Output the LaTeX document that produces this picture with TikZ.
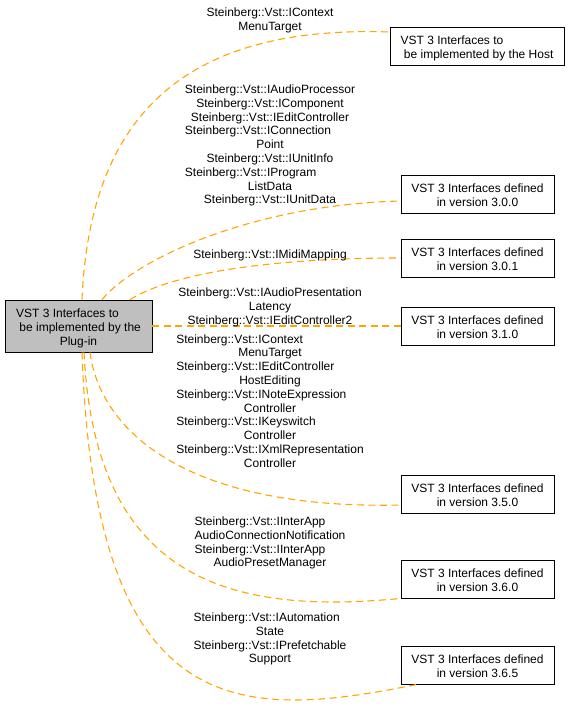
\documentclass[tikz,border=0pt]{standalone}
\usepackage{fontspec}
\setmainfont{Liberation Sans}
\definecolor{edgeorange}{HTML}{FFA500}
\definecolor{boxgray}{HTML}{BFBFBF}
\newcommand\lblfont{\fontsize{12}{13.8}\selectfont}
\newcommand\Lft[1]{\multicolumn{1}{@{}l@{}}{#1}}
\newcommand\Blk[1]{\begin{tabular}{@{}c@{}}#1\end{tabular}}
\newcommand\BoxTxt[1]{\raisebox{-3pt}[\height][\depth]{\Blk{#1}}}
\begin{document}
\begin{tikzpicture}[x=1pt,y=-1pt,
  box/.style={draw=black, line width=0.9pt, inner sep=0pt, minimum height=38pt, minimum width=153pt, font=\lblfont},
  lab/.style={inner sep=0pt, font=\lblfont},
  link/.style={draw=edgeorange, line width=1.1pt, dash pattern=on 7pt off 4.5pt}]
\useasboundingbox (0,0) rectangle (571,708);
% nodes
\node[box, fill=boxgray, minimum width=147pt, minimum height=52pt] (main) at (78.5,326)
  {\BoxTxt{\Lft{VST 3 Interfaces to}\\ \ be implemented by the\\ Plug-in}};
\node[box, minimum width=174pt] (host) at (477,46)
  {\BoxTxt{\Lft{VST 3 Interfaces to}\\ \ be implemented by the Host}};
\node[box] (v300) at (477.5,194) {\BoxTxt{VST 3 Interfaces defined\\ in version 3.0.0}};
\node[box] (v301) at (477.5,258) {\BoxTxt{VST 3 Interfaces defined\\ in version 3.0.1}};
\node[box] (v310) at (477.5,326) {\BoxTxt{VST 3 Interfaces defined\\ in version 3.1.0}};
\node[box] (v350) at (477.5,494) {\BoxTxt{VST 3 Interfaces defined\\ in version 3.5.0}};
\node[box] (v360) at (477.5,579) {\BoxTxt{VST 3 Interfaces defined\\ in version 3.6.0}};
\node[box] (v365) at (477.5,665) {\BoxTxt{VST 3 Interfaces defined\\ in version 3.6.5}};
% edges
\draw[link] ([xshift=3.5pt]main.north) .. controls (90,115) and (185,25) .. ([yshift=14pt]host.west);
\draw[link] ([xshift=23.5pt]main.north) .. controls (135,260) and (250,205) .. ([yshift=-7pt]v300.west);
\draw[link] ([xshift=51.5pt]main.north) .. controls (175,272) and (275,258) .. (v301.west);
\draw[link] (main.east) -- (v310.west);
\draw[link] ([xshift=11.5pt]main.south) .. controls (100,430) and (185,510) .. ([yshift=-11pt]v350.west);
\draw[link] ([xshift=5.5pt]main.south) .. controls (95,580) and (230,615) .. (v360.south west);
\draw[link] ([xshift=3.5pt]main.south) .. controls (95,725) and (240,720) .. ([xshift=-60.5pt]v365.south);
% edge labels
\node[lab] (l1) at (270,20.5) {\Blk{Steinberg::Vst::IContext\\ MenuTarget}};
\node[lab] (l2) at (270,146) {\Blk{Steinberg::Vst::IAudioProcessor\\ Steinberg::Vst::IComponent\\ Steinberg::Vst::IEditController\\ \Lft{Steinberg::Vst::IConnection}\\ Point\\ Steinberg::Vst::IUnitInfo\\ \Lft{Steinberg::Vst::IProgram}\\ ListData\\ Steinberg::Vst::IUnitData}};
\node[lab] (l3) at (270,255) {Steinberg::Vst::IMidiMapping};
\node[lab] (l4) at (270,307.5) {\Blk{Steinberg::Vst::IAudioPresentation\\ Latency\\ Steinberg::Vst::IEditController2}};
\node[lab] (l5) at (270,402.5) {\Blk{\Lft{Steinberg::Vst::IContext}\\ MenuTarget\\ \Lft{Steinberg::Vst::IEditController}\\ HostEditing\\ \Lft{Steinberg::Vst::INoteExpression}\\ Controller\\ \Lft{Steinberg::Vst::IKeyswitch}\\ Controller\\ \Lft{Steinberg::Vst::IXmlRepresentation}\\ Controller}};
\node[lab] (l6) at (270,543.5) {\Blk{\Lft{Steinberg::Vst::IInterApp}\\ AudioConnectionNotification\\ \Lft{Steinberg::Vst::IInterApp}\\ AudioPresetManager}};
\node[lab] (l7) at (270,639.5) {\Blk{\Lft{Steinberg::Vst::IAutomation}\\ State\\ \Lft{Steinberg::Vst::IPrefetchable}\\ Support}};
\end{tikzpicture}
\end{document}
